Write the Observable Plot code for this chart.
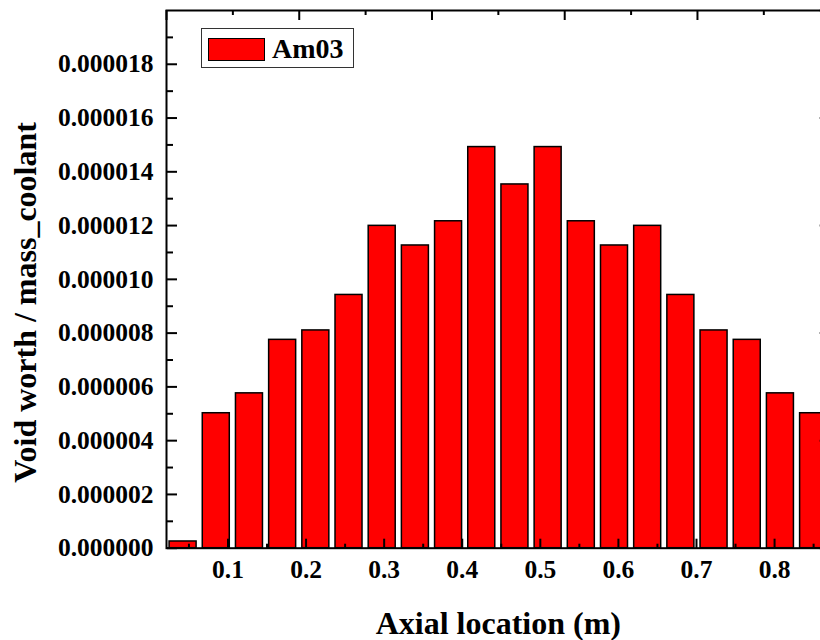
<!DOCTYPE html>
<html><head><meta charset="utf-8">
<script src="https://cdn.jsdelivr.net/npm/d3@7"></script>
<script src="https://cdn.jsdelivr.net/npm/@observablehq/plot@0.6"></script>
<style>
html,body{margin:0;padding:0;background:#fff;overflow:hidden;}
#wrap{position:relative;width:820px;height:640px;overflow:hidden;}
#legend{position:absolute;left:201px;top:28px;width:151px;height:38px;border:1px solid #333;background:#fff;z-index:2;font-family:"Liberation Serif","Times New Roman",serif;font-weight:bold;color:#000;}
#legend .sw{position:absolute;left:6px;top:9px;width:57px;height:23px;box-sizing:border-box;background:#ff0000;border:1.5px solid #000;}
#legend .lb{position:absolute;left:70px;top:5.6px;font-size:28px;line-height:28px;white-space:nowrap;}
</style></head>
<body>
<div id="wrap"><div id="legend"><div class="sw"></div><div class="lb">Am03</div></div></div>
<script>
// ---- data ----
const seriesName = "Am03";
const axialLocation = [0.0425, 0.085, 0.1275, 0.17, 0.2125, 0.255, 0.2975, 0.34, 0.3825, 0.425,
                       0.4675, 0.51, 0.5525, 0.595, 0.6375, 0.68, 0.7225, 0.765, 0.8075, 0.85];
const voidWorth = [0.00000025, 0.00000502, 0.00000576, 0.00000775, 0.00000810, 0.00000942, 0.00001199, 0.00001126, 0.00001216, 0.00001492,
                   0.00001353, 0.00001492, 0.00001216, 0.00001126, 0.00001199, 0.00000942, 0.00000810, 0.00000775, 0.00000576, 0.00000502];
const xTickLabels = [0.1, 0.2, 0.3, 0.4, 0.5, 0.6, 0.7, 0.8];
const xMinorTicks = [0.05, 0.15, 0.25, 0.35, 0.45, 0.55, 0.65, 0.75, 0.85];
const yTickLabels = [0, 0.000002, 0.000004, 0.000006, 0.000008, 0.00001, 0.000012, 0.000014, 0.000016, 0.000018];
const yMinorTicks = [0.000001, 0.000003, 0.000005, 0.000007, 0.000009, 0.000011, 0.000013, 0.000015, 0.000017, 0.000019];
const topMajorTicks = [0.02125, 0.19125, 0.36125, 0.53125, 0.70125, 0.87125];
const topMinorTicks = [0.10625, 0.27625, 0.44625, 0.61625, 0.78625];
const rightMajorTicks = [0, 0.000004, 0.000008, 0.000012, 0.000016, 0.00002];
const rightMinorTicks = [0.000002, 0.000006, 0.00001, 0.000014, 0.000018];
const xTitle = "Axial location (m)";
const yTitle = "Void worth / mass_coolant";

const bars = axialLocation.map((x, i) => ({x, v: voidWorth[i]}));
const halfBar = 0.0173;
const font = "'Liberation Serif','Times New Roman',serif";

const chart = Plot.plot({
  width: 820,
  height: 640,
  marginLeft: 166,
  marginRight: -9.7,
  marginTop: 10,
  marginBottom: 92.3,
  style: {fontFamily: font, fontWeight: "bold", color: "#000", background: "#fff", overflow: "hidden"},
  x: {domain: [0.02125, 0.87125]},
  y: {domain: [0, 0.00002]},
  marks: [
    Plot.rectY(bars, {x1: d => d.x - halfBar, x2: d => d.x + halfBar, y: "v", fill: "#ff0000", stroke: "#000", strokeWidth: 1.5}),
    // tick labels
    Plot.axisY({ticks: yTickLabels, tickSize: 0, tickPadding: 13, tickFormat: d3.format(".6f"), fontSize: 25.5, fontWeight: "bold", label: null}),
    Plot.axisX({ticks: xTickLabels, tickSize: 0, tickPadding: 12, tickFormat: d3.format(".1f"), fontSize: 25.5, fontWeight: "bold", label: null}),
    // inward ticks: left
    Plot.axisY({anchor: "right", frameAnchor: "left", ticks: yTickLabels, tickSize: 10, strokeWidth: 2, fill: "none"}),
    Plot.axisY({anchor: "right", frameAnchor: "left", ticks: yMinorTicks, tickSize: 6, strokeWidth: 2, fill: "none"}),
    // inward ticks: right
    Plot.axisY({anchor: "left", frameAnchor: "right", ticks: rightMajorTicks, tickSize: 10, strokeWidth: 2, fill: "none"}),
    Plot.axisY({anchor: "left", frameAnchor: "right", ticks: rightMinorTicks, tickSize: 5, strokeWidth: 2, fill: "none"}),
    // inward ticks: bottom
    Plot.axisX({anchor: "top", frameAnchor: "bottom", ticks: xTickLabels, tickSize: 10, strokeWidth: 2, fill: "none"}),
    Plot.axisX({anchor: "top", frameAnchor: "bottom", ticks: xMinorTicks, tickSize: 5, strokeWidth: 2, fill: "none"}),
    // inward ticks: top
    Plot.axisX({anchor: "bottom", frameAnchor: "top", ticks: topMajorTicks, tickSize: 10, strokeWidth: 2, fill: "none"}),
    Plot.axisX({anchor: "bottom", frameAnchor: "top", ticks: topMinorTicks, tickSize: 5, strokeWidth: 2, fill: "none"}),
    Plot.frame({stroke: "#000", strokeWidth: 2}),
    // axis titles
    Plot.text([yTitle], {frameAnchor: "left", textAnchor: "middle", lineAnchor: "middle", rotate: -90, dx: -140.6, dy: 23, fontSize: 32, fontWeight: "bold", fill: "#000"}),
    Plot.text([xTitle], {frameAnchor: "bottom", textAnchor: "middle", lineAnchor: "middle", dy: 76, fontSize: 32, fontWeight: "bold", fill: "#000"})
  ]
});
document.getElementById("wrap").appendChild(chart);
</script>
</body></html>
